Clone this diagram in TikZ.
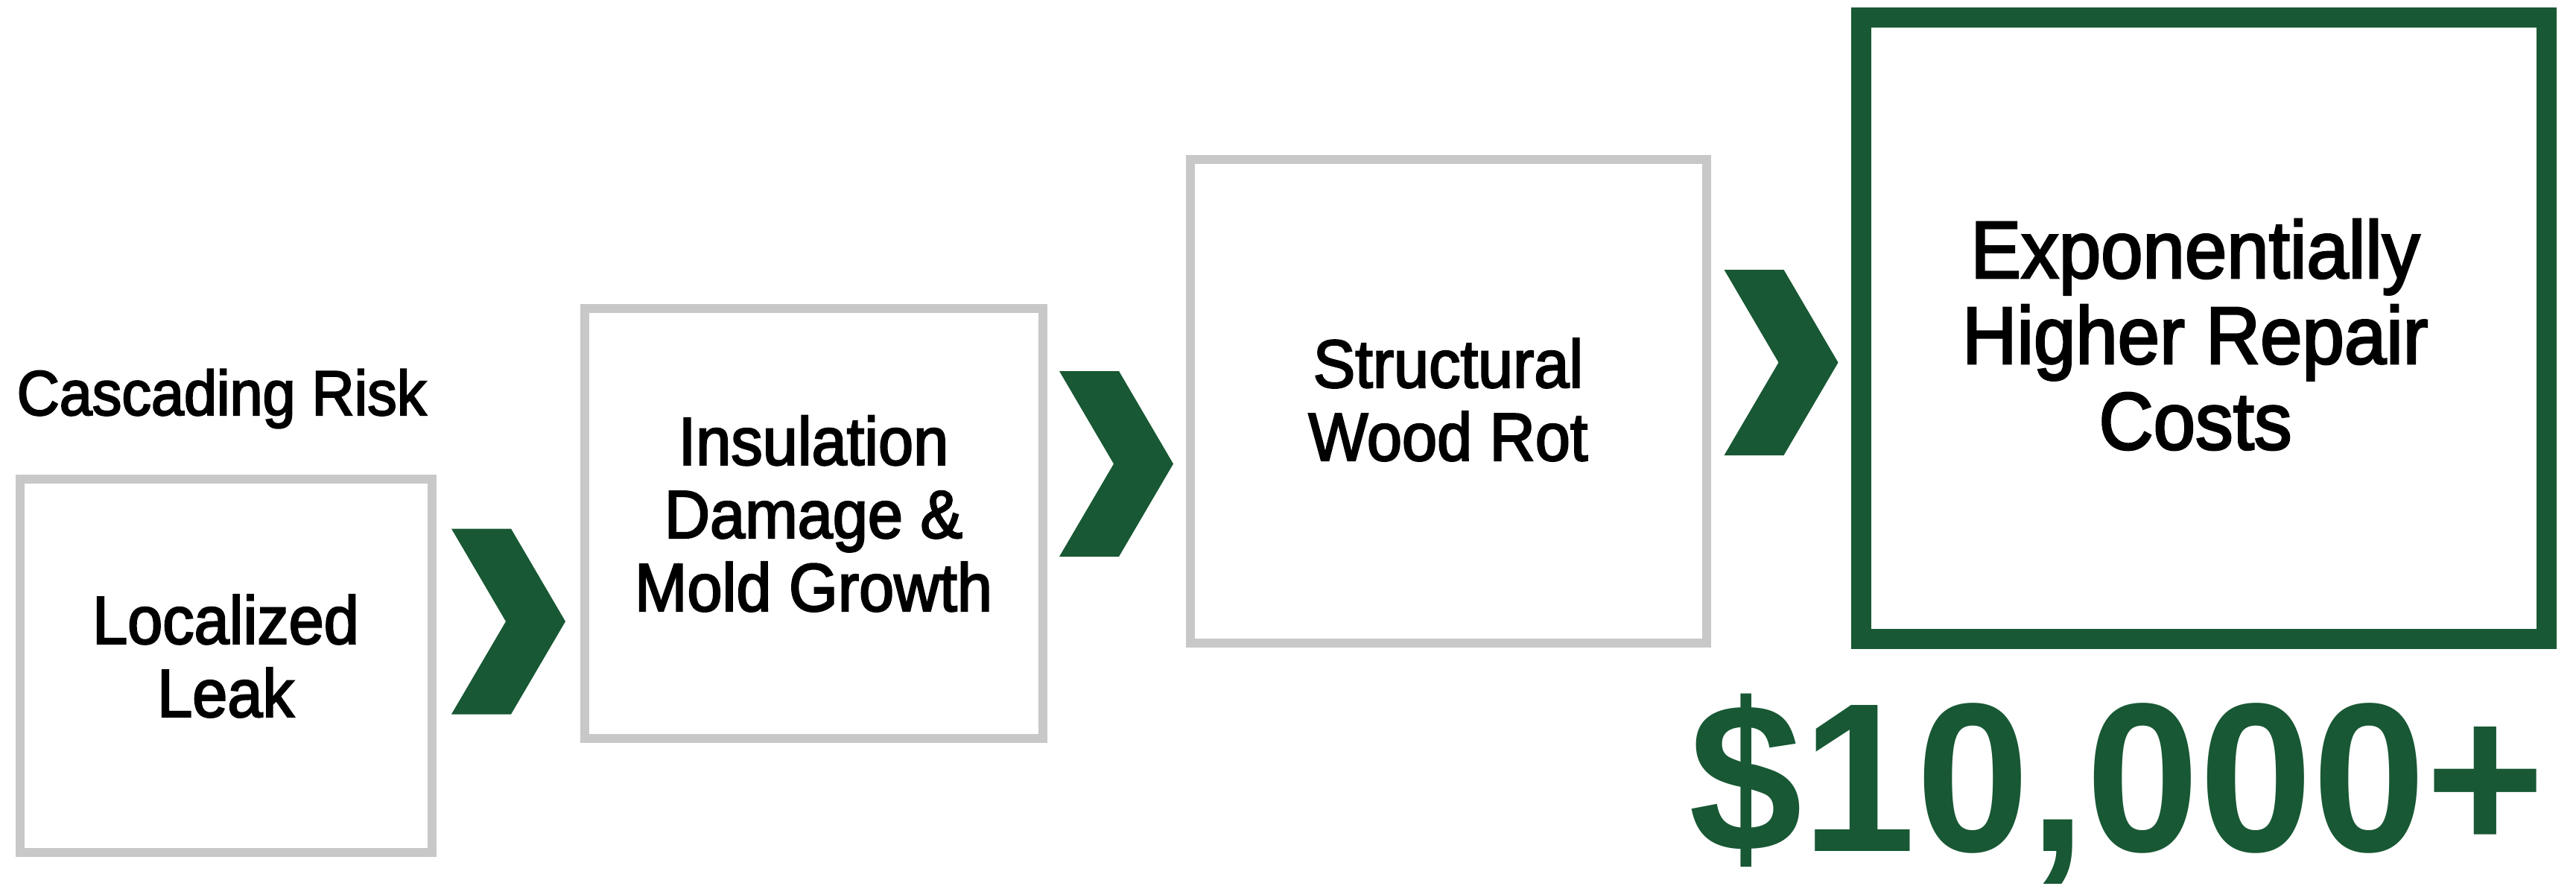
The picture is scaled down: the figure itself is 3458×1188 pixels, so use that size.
\documentclass[tikz,border=0pt]{standalone}
\usepackage{fontspec}
\setmainfont[FakeStretch=0.93,FakeBold=2.5]{Liberation Sans}
\newfontfamily\bigfont[FakeStretch=0.96]{Liberation Sans}
\definecolor{grn}{RGB}{24,88,52}
\definecolor{gry}{RGB}{200,200,200}
\tikzset{
  graybox/.style={draw=gry, line width=3.4pt, fill=white, inner sep=0pt, rectangle},
  greenbox/.style={draw=grn, line width=7.7pt, fill=white, inner sep=0pt, rectangle},
  boxtext/.style={font=\fontsize{25.9}{27.9}\selectfont, align=center, anchor=base, inner sep=0pt, text=black},
  bigtext/.style={font=\fontsize{31}{32.7}\selectfont, align=center, anchor=base, inner sep=0pt, text=black},
  chevron/.pic={\fill[grn] (-76.5,-124.5) -- (3.5,-124.5) -- (76.5,0) -- (3.5,124.5) -- (-76.5,124.5) -- (-3.5,0) -- cycle;}
}
\begin{document}
\begin{tikzpicture}[x=0.01cm,y=-0.01cm]
\fill[white] (0,0) rectangle (3458,1188);
\useasboundingbox (0,0) rectangle (3458,1188);

% boxes
\node[graybox, minimum width=5.53cm, minimum height=5.01cm] (b1) at (303.5,893.5) {};
\node[graybox, minimum width=6.15cm, minimum height=5.77cm] (b2) at (1092.5,702.5) {};
\node[graybox, minimum width=6.93cm, minimum height=6.49cm] (b3) at (1944.5,538.5) {};
\node[greenbox, minimum width=9.20cm, minimum height=8.34cm] (b4) at (2958.5,440.5) {};

% chevrons between the boxes
\pic at (682.5,834) {chevron};
\pic at (1498.5,622.5) {chevron};
\pic at (2391,486.5) {chevron};

% texts (anchor base = baseline of the last line)
\node[anchor=base west, inner sep=0pt, font=\fontsize{24.2}{26}\selectfont] (title) at (22,557) {Cascading Risk};
\node[boxtext] (t1) at (303,962) {Localized\\Leak};
\node[boxtext] (t2) at (1092,820) {Insulation\\Damage \&\\Mold Growth};
\node[boxtext] (t3) at (1944,618) {Structural\\Wood Rot};
\node[bigtext] (t4) at (2947,603) {Exponentially\\Higher Repair\\Costs};
\node[anchor=base, inner sep=0pt, text=grn, font=\bigfont\bfseries\fontsize{81}{81}\selectfont] (cost) at (2842,1142) {\$10,000+};
\end{tikzpicture}
\end{document}
